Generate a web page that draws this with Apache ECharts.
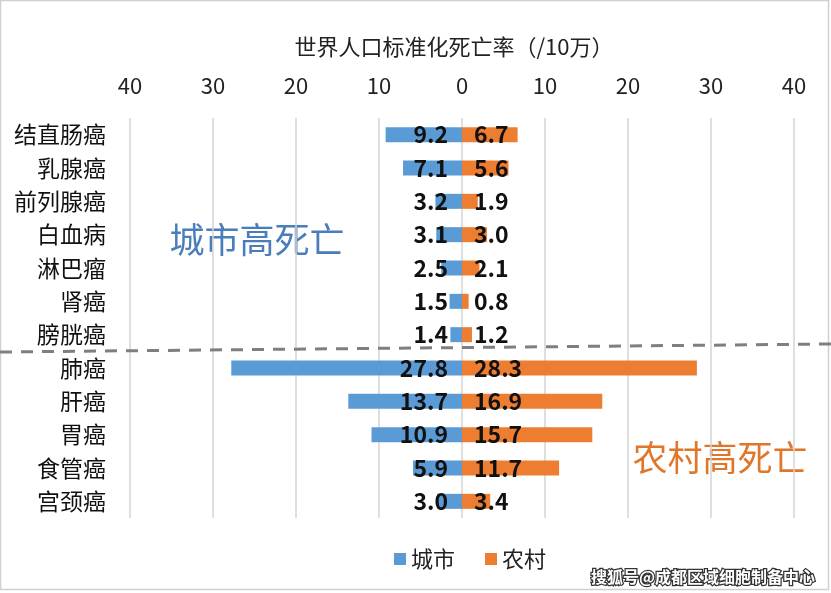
<!DOCTYPE html>
<html>
<head>
<meta charset="utf-8">
<script src="https://cdn.jsdelivr.net/npm/echarts@6/dist/echarts.min.js"></script>
<style>html,body{margin:0;padding:0;background:#fff}#c{width:831px;height:593px}</style>
</head>
<body>
<div id="c"></div>
<script>
const categories = ['结直肠癌','乳腺癌','前列腺癌','白血病','淋巴瘤','肾癌','膀胱癌','肺癌','肝癌','胃癌','食管癌','宫颈癌'];
const cityValues = [9.2, 7.1, 3.2, 3.1, 2.5, 1.5, 1.4, 27.8, 13.7, 10.9, 5.9, 3.0];
const ruralValues = [6.7, 5.6, 1.9, 3.0, 2.1, 0.8, 1.2, 28.3, 16.9, 15.7, 11.7, 3.4];
const axisTicks = [-40, -30, -20, -10, 0, 10, 20, 30, 40];

const FONT = '"Noto Sans CJK SC", "Noto Sans", sans-serif';
const chart = echarts.init(document.getElementById('c'), null, {renderer: 'canvas'});

const option = {
  backgroundColor: '#fff',
  textStyle: {fontFamily: FONT},
  animation: false,
  grid: {left: 130, right: 37, top: 118, bottom: 75, containLabel: false},
  legend: {
    data: ['城市', '农村'],
    left: 389, top: 543,
    icon: 'rect', itemWidth: 12, itemHeight: 12, itemGap: 30, itemTextGap: 6,
    textStyle: {fontSize: 22, color: '#222', fontFamily: FONT}
  },
  xAxis: {
    type: 'value', position: 'top',
    min: axisTicks[0], max: axisTicks[axisTicks.length - 1], interval: 10,
    axisLine: {show: false}, axisTick: {show: false},
    axisLabel: {formatter: v => Math.abs(v), fontSize: 22, color: '#222', margin: 21, fontFamily: FONT},
    splitLine: {lineStyle: {color: '#d4d4d4', width: 1.5}}
  },
  yAxis: {
    type: 'category', data: categories, inverse: true,
    axisLine: {show: false}, axisTick: {show: false},
    axisLabel: {fontSize: 23, color: '#111', margin: 24, fontFamily: FONT},
    splitLine: {show: false}
  },
  series: [
    {
      name: '城市', type: 'bar', barWidth: 15, barGap: '-100%',
      itemStyle: {color: '#5B9BD5'},
      data: cityValues.map(v => -v),
      label: {show: true, position: 'insideRight', distance: 14, formatter: p => Math.abs(p.value).toFixed(1),
        fontSize: 23, fontWeight: 'bold', color: '#111', fontFamily: FONT}
    },
    {
      name: '农村', type: 'bar', barWidth: 15, barGap: '-100%',
      itemStyle: {color: '#ED7D31'},
      data: ruralValues,
      label: {show: true, position: 'insideLeft', distance: 12, formatter: p => p.value.toFixed(1),
        fontSize: 23, fontWeight: 'bold', color: '#111', fontFamily: FONT}
    }
  ],
  graphic: [
    {type: 'text', x: 454, y: 47, style: {text: '世界人口标准化死亡率（/10万）', font: '22px ' + FONT, fill: '#222', textAlign: 'center', textVerticalAlign: 'middle'}},
    {type: 'text', x: 257, y: 240, style: {text: '城市高死亡', font: '35px ' + FONT, fill: '#4A7EBB', textAlign: 'center', textVerticalAlign: 'middle'}},
    {type: 'text', x: 720, y: 458, style: {text: '农村高死亡', font: '35px ' + FONT, fill: '#E0762A', textAlign: 'center', textVerticalAlign: 'middle'}},
    {type: 'line', shape: {x1: 0, y1: 352, x2: 831, y2: 344}, style: {stroke: '#7f7f7f', lineWidth: 3, lineDash: [12, 9]}, z: 10},
    {type: 'text', x: 815, y: 577, style: {text: '搜狐号@成都区域细胞制备中心', font: 'bold 16px ' + FONT, fill: '#fff', stroke: '#333', lineWidth: 2.5, textAlign: 'right', textVerticalAlign: 'middle'}, z: 20},
    {type: 'rect', shape: {x: 0.5, y: 0.5, width: 828, height: 589}, style: {fill: 'none', stroke: '#d0d0d0', lineWidth: 1.5}, z: 5}
  ]
};
chart.setOption(option);
</script>
</body>
</html>
